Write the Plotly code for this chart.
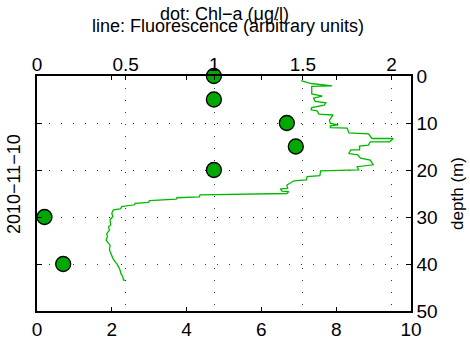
import plotly.graph_objects as go

# Chl-a dots (bottom axis, ug/l) at sample depths (m)
chl_depth = [0, 5, 10, 15, 20, 30, 40]
chl_value = [4.73, 4.73, 6.68, 6.92, 4.73, 0.2, 0.7]

# Fluorescence profile (top axis, arbitrary units)
fl_depth = [1.0, 1.6, 2.1, 2.2, 3.8, 4.3, 4.7, 5.4, 5.7, 6.2,
            6.7, 7.2, 7.4, 8.1, 8.3, 9.4, 10.1, 10.4, 10.6, 11.0,
            11.1, 12.1, 12.3, 13.3, 13.3, 14.0, 14.0, 14.7, 14.9, 15.7,
            15.7, 16.5, 16.8, 17.5, 17.9, 18.9, 19.3, 20.0, 20.2, 21.2,
            21.4, 22.1, 22.3, 23.2, 23.9, 24.0, 24.5, 24.6, 25.0, 25.3,
            25.7, 25.9, 26.2, 26.5, 26.9, 27.1, 27.4, 27.8, 28.3, 28.5,
            29.2, 29.9, 30.6, 31.7, 32.1, 32.8, 33.5, 34.2, 34.9, 35.6,
            36.0, 37.0, 37.7, 38.8, 39.5, 39.9, 40.6, 41.3, 42.0, 42.7,
            43.4, 43.5]
fl_value = [1.49, 1.546, 1.665, 1.55, 1.55, 1.61, 1.56, 1.57, 1.63, 1.62,
            1.55, 1.546, 1.58, 1.59, 1.67, 1.65, 1.655, 1.70, 1.655, 1.655,
            1.75, 1.76, 1.87, 1.89, 2.01, 1.99, 1.88, 1.87, 1.82, 1.82,
            1.77, 1.76, 1.81, 1.825, 1.88, 1.897, 1.806, 1.815, 1.60, 1.596,
            1.524, 1.52, 1.45, 1.41, 1.414, 1.373, 1.382, 1.42, 1.41, 0.92,
            0.915, 0.79, 0.785, 0.635, 0.629, 0.554, 0.55, 0.478, 0.47, 0.431,
            0.422, 0.428, 0.412, 0.416, 0.403, 0.409, 0.394, 0.397, 0.39, 0.403,
            0.412, 0.409, 0.416, 0.428, 0.44, 0.45, 0.46, 0.469, 0.473, 0.484,
            0.488, 0.497]

bottom_ticks = [0, 2, 4, 6, 8, 10]
top_ticks = [0, 0.5, 1, 1.5, 2]
top_tick_labels = ["0", "0.5", "1", "1.5", "2"]
depth_ticks = [0, 10, 20, 30, 40, 50]

FONT = "Liberation Sans, Arial, Helvetica, sans-serif"

fig = go.Figure()
fig.add_trace(go.Scatter(
    x=fl_value, y=fl_depth, xaxis="x2", yaxis="y", mode="lines",
    line=dict(color="#00b800", width=1.3), showlegend=False))
fig.add_trace(go.Scatter(
    x=chl_value, y=chl_depth, xaxis="x", yaxis="y", mode="markers",
    marker=dict(color="#00a800", size=15, line=dict(color="black", width=1.3)),
    cliponaxis=False, showlegend=False))

grid_dash = "1px,11px"
fig.update_layout(
    width=470, height=343,
    margin=dict(l=37, r=59, t=76, b=32),
    paper_bgcolor="white", plot_bgcolor="white",
    font=dict(family=FONT, size=19, color="black"),
    xaxis=dict(range=[0, 10], tickvals=bottom_ticks, ticks="inside", ticklen=4,
               tickcolor="black", showline=True, linecolor="black", linewidth=1.5,
               mirror="ticks", showgrid=False, zeroline=False, fixedrange=True,
               automargin=False),
    xaxis2=dict(range=[0, 2.11], tickvals=top_ticks, ticktext=top_tick_labels,
                overlaying="x", side="top", anchor="y", ticks="inside", ticklen=4,
                tickcolor="black", showline=False, showgrid=True,
                gridcolor="#333333", gridwidth=1, griddash=grid_dash,
                zeroline=False, fixedrange=True, automargin=False),
    yaxis=dict(range=[50, 0], tickvals=depth_ticks, side="right", ticks="inside",
               ticklen=5, tickcolor="black", showline=True, linecolor="black",
               linewidth=1.5, mirror="ticks", showgrid=True, gridcolor="#333333",
               gridwidth=1, griddash=grid_dash, zeroline=False, fixedrange=True,
               automargin=False,
               title=dict(text="depth (m)", font=dict(size=17), standoff=14)),
)

fig.add_annotation(text="dot: Chl\u2212a (\u03bcg/l)", xref="paper", yref="paper",
                   x=0.5, y=1.262, xanchor="center", yanchor="middle",
                   showarrow=False, font=dict(size=18))
fig.add_annotation(text="line: Fluorescence (arbitrary units)", xref="paper", yref="paper",
                   x=0.51, y=1.212, xanchor="center", yanchor="middle",
                   showarrow=False, font=dict(size=18))
fig.add_annotation(text="2010\u221211\u221210", xref="paper", yref="paper",
                   x=-0.0615, y=0.54, xanchor="center", yanchor="middle",
                   textangle=-90, showarrow=False, font=dict(size=18))

fig.write_html("out.html")
